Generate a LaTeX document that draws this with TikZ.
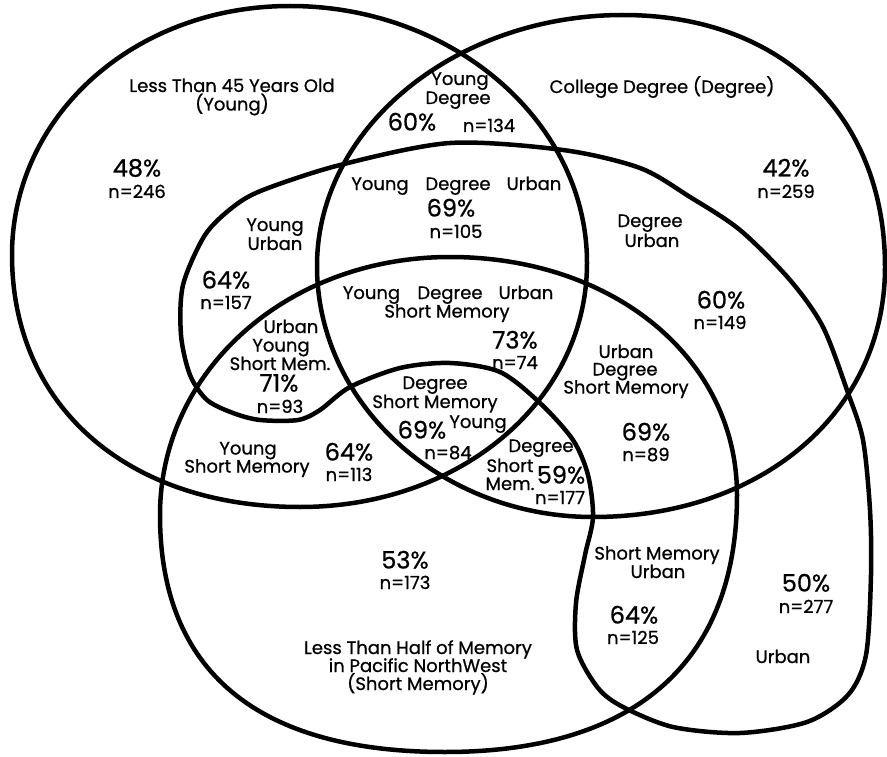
\documentclass[tikz,border=0pt]{standalone}
\usepackage{fontspec}
\setmainfont{Poppins}[FakeBold=0.8]
\begin{document}
\begin{tikzpicture}[x=1pt,y=-1pt,
  outline/.style={line width=4.5pt, line join=round},
  lbl/.style={font=\fontsize{18}{20}\selectfont, inner sep=0pt, anchor=base, text height=12.4pt, text depth=3.2pt},
  pct/.style={font=\fontsize{24}{26}\selectfont, inner sep=0pt, anchor=base, text height=16.5pt, text depth=0pt, yshift=1.5pt},
  cnt/.style={lbl, yshift=-1pt}]
\useasboundingbox (0,0) rectangle (887,757);
% Young
\draw[outline] (12,255) .. controls (12,116) and (134,6) .. (290,6)
  .. controls (453,6) and (587,122) .. (587,263)
  .. controls (587,400) and (461,507) .. (300,507)
  .. controls (127,507) and (12,406) .. cycle;
% Degree
\draw[outline] (317,266) .. controls (317,128) and (455,15) .. (623,15)
  .. controls (782,15) and (885,116) .. (885,267)
  .. controls (885,412) and (762,517) .. (593,517)
  .. controls (441,517) and (317,404) .. cycle;
% Short Memory
\draw[outline] (160,515) .. controls (160,370) and (288,257) .. (450,257)
  .. controls (614,257) and (737,359) .. (737,495)
  .. controls (737,662) and (635,752) .. (445,752)
  .. controls (257,752) and (160,671) .. cycle;
% Urban
\draw[outline] plot[smooth cycle, tension=0.5] coordinates {
 (450,143) (563,150) (640,168) (690,197) (740,230) (790,280) (823,327) (848,393)
 (863,440) (870,510) (871,575) (866,655) (848,695) (807,722) (740,733) (673,727)
 (623,707) (598,688) (577,650) (576,603) (585,555) (593,517) (588,475) (573,440)
 (540,403) (500,372) (450,363) (400,368) (350,387) (320,410) (298,420) (260,420)
 (233,413) (207,400) (190,375) (181,335) (183,285) (205,235) (233,207) (263,190)
 (340,165)};
% texts
\node[lbl] (t1a) at (232,92) {Less Than 45 Years Old};
\node[lbl] (t1b) at (232,110.5) {(Young)};
\node[pct] (p1) at (137,178) {48\%};
\node[cnt] (n1) at (137,197) {n=246};
\node[lbl] (t2a) at (460,85) {Young};
\node[lbl] (t2b) at (458,104) {Degree};
\node[pct] (p2) at (412,132) {60\%};
\node[lbl] (n2) at (489,132) {n=134};
\node[lbl] (t3) at (662,93) {College Degree (Degree)};
\node[pct] (p3) at (786,178) {42\%};
\node[cnt] (n3) at (786,197) {n=259};
\node[lbl] (t4a) at (380,190) {Young};
\node[lbl] (t4b) at (458,190) {Degree};
\node[lbl] (t4c) at (534,190) {Urban};
\node[pct] (p4) at (451,218) {69\%};
\node[cnt] (n4) at (456,237) {n=105};
\node[lbl] (t5a) at (275,231) {Young};
\node[lbl] (t5b) at (275,250) {Urban};
\node[pct] (p5) at (226,290) {64\%};
\node[cnt] (n5) at (226,308) {n=157};
\node[lbl] (t6a) at (291,333) {Urban};
\node[lbl] (t6b) at (281,351.5) {Young};
\node[lbl] (t6c) at (280,370) {Short Mem.};
\node[pct] (p6) at (279,393) {71\%};
\node[cnt] (n6) at (280,412) {n=93};
\node[lbl] (t7a) at (371.5,299) {Young};
\node[lbl] (t7b) at (450,299) {Degree};
\node[lbl] (t7c) at (526,299) {Urban};
\node[lbl] (t7d) at (447,317.5) {Short Memory};
\node[pct] (p7) at (515,350) {73\%};
\node[cnt] (n7) at (515,368) {n=74};
\node[lbl] (t8a) at (626,358) {Urban};
\node[lbl] (t8b) at (625,375.5) {Degree};
\node[lbl] (t8c) at (626,393.5) {Short Memory};
\node[pct] (p8) at (646,442) {69\%};
\node[cnt] (n8) at (646,460) {n=89};
\node[lbl] (t9a) at (650,227) {Degree};
\node[lbl] (t9b) at (652,247) {Urban};
\node[pct] (p9) at (721,310) {60\%};
\node[cnt] (n9) at (720,328) {n=149};
\node[lbl] (t10a) at (435,389) {Degree};
\node[lbl] (t10b) at (435,408) {Short Memory};
\node[lbl] (t10c) at (478,428) {Young};
\node[pct] (p10) at (422,440) {69\%};
\node[cnt] (n10) at (448,458) {n=84};
\node[lbl] (t11a) at (541,452) {Degree};
\node[lbl] (t11b) at (510,472) {Short};
\node[lbl] (t11c) at (510,490) {Mem.};
\node[pct] (p11) at (561,485) {59\%};
\node[cnt] (n11) at (560,503) {n=177};
\node[lbl] (t12a) at (248,454.5) {Young};
\node[lbl] (t12b) at (247,472.5) {Short Memory};
\node[pct] (p12) at (349,462) {64\%};
\node[cnt] (n12) at (349,480) {n=113};
\node[pct] (p13) at (405,570) {53\%};
\node[cnt] (n13) at (405,588) {n=173};
\node[lbl] (t13a) at (418,654) {Less Than Half of Memory};
\node[lbl] (t13b) at (418,672) {in Pacific NorthWest};
\node[lbl] (t13c) at (418,690) {(Short Memory)};
\node[lbl] (t14a) at (657,559.5) {Short Memory};
\node[lbl] (t14b) at (658,578) {Urban};
\node[pct] (p14) at (634,625) {64\%};
\node[cnt] (n14) at (633,643) {n=125};
\node[pct] (p15) at (806,593) {50\%};
\node[cnt] (n15) at (806,612) {n=277};
\node[lbl] (t15) at (783,663) {Urban};
\end{tikzpicture}
\end{document}
